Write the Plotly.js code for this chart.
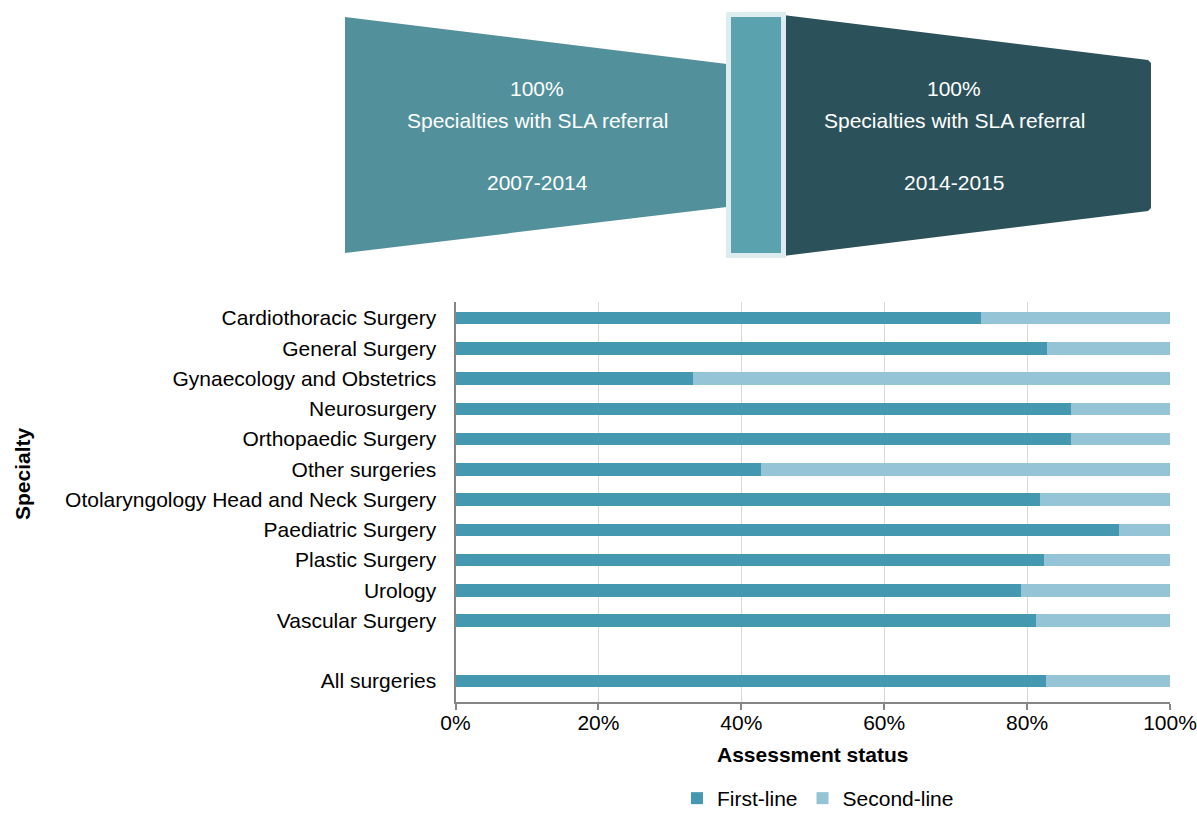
<!DOCTYPE html>
<html><head><meta charset="utf-8">
<script src="https://cdn.plot.ly/plotly-3.0.1.min.js"></script>
<style>html,body{margin:0;padding:0;background:#fff;overflow:hidden}#wrap{width:1197px;height:813px;overflow:hidden;position:relative}#chart{width:1197px;height:819px}</style>
</head><body><div id="wrap"><div id="chart"></div></div>
<script>
const categories = ["Cardiothoracic Surgery","General Surgery","Gynaecology and Obstetrics","Neurosurgery","Orthopaedic Surgery","Other surgeries","Otolaryngology Head and Neck Surgery","Paediatric Surgery","Plastic Surgery","Urology","Vascular Surgery"," ","All surgeries"];
const firstLine = [73.5, 82.8, 33.3, 86.2, 86.1, 42.8, 81.8, 92.8, 82.4, 79.1, 81.3, null, 82.7];
const secondLine = [26.5, 17.2, 66.7, 13.8, 13.9, 57.2, 18.2, 7.2, 17.6, 20.9, 18.7, null, 17.3];
const xTickVals = [0, 20, 40, 60, 80, 100];
const xTickText = ["0%","20%","40%","60%","80%","100%"];
const panelLeft = ["100%","Specialties with SLA referral","","2007-2014"];
const panelRight = ["100%","Specialties with SLA referral","","2014-2015"];

const W = 1197, H = 819;
const px = x => x / W, py = y => 1 - y / H;
const FONT = "Liberation Sans, Arial, sans-serif";
const FS = 21;

function poly(pts, color) {
  return {type:'path', xref:'paper', yref:'paper', layer:'above',
    path: 'M ' + pts.map(p => px(p[0]) + ',' + py(p[1])).join(' L ') + ' Z',
    fillcolor: color, line:{width:0}};
}
function rect(x0,y0,x1,y1,color){
  return {type:'rect', xref:'paper', yref:'paper', layer:'above',
    x0:px(x0), x1:px(x1), y0:py(y1), y1:py(y0), fillcolor:color, line:{width:0}};
}

const shapes = [
  poly([[345,17],[727,64],[727,207],[345,253]], '#52919B'),
  poly([[783,15],[1148,60],[1151,63],[1151,208],[1148,211],[783,256]], '#2B525A'),
  rect(726,12,786,258,'#DCECEF'),
  rect(731,17,781,253,'#5AA3AE')
];

const annotations = [];
const lineY = [88, 120, 151, 182];
panelLeft.forEach((t,i)=>{ if(t) annotations.push({xref:'paper',yref:'paper',x:px(537),y:py(lineY[i]),text:t,showarrow:false,xanchor:'center',yanchor:'middle',font:{family:FONT,size:FS,color:'#ffffff'}}); });
panelRight.forEach((t,i)=>{ if(t) annotations.push({xref:'paper',yref:'paper',x:px(954),y:py(lineY[i]),text:t,showarrow:false,xanchor:'center',yanchor:'middle',font:{family:FONT,size:FS,color:'#ffffff'}}); });
annotations.push({xref:'paper',yref:'paper',x:px(22),y:py(474),text:'<b>Specialty</b>',textangle:-90,showarrow:false,xanchor:'center',yanchor:'middle',font:{family:FONT,size:FS,color:'#000'}});
annotations.push({xref:'paper',yref:'paper',x:px(812),y:py(754),text:'<b>Assessment status</b>',showarrow:false,xanchor:'center',yanchor:'middle',font:{family:FONT,size:FS,color:'#000'}});

const data = [
  {type:'bar', orientation:'h', name:'First-line', y:categories, x:firstLine, marker:{color:'#4499B0'}, hoverinfo:'x+y'},
  {type:'bar', orientation:'h', name:'Second-line', y:categories, x:secondLine, marker:{color:'#94C4D5'}, hoverinfo:'x+y'}
];

const layout = {
  width: W, height: H,
  margin:{l:0,r:0,t:0,b:0},
  paper_bgcolor:'#fff', plot_bgcolor:'#fff',
  barmode:'stack', bargap:0.59,
  font:{family:FONT, size:FS, color:'#000'},
  xaxis:{domain:[px(455.5), px(1170)], range:[0,100], tickvals:xTickVals, ticktext:xTickText,
    showgrid:true, gridcolor:'#D9D9D9', gridwidth:1, zeroline:false,
    showline:true, linecolor:'#868686', linewidth:2, ticks:'outside', ticklen:6, tickcolor:'#868686', tickwidth:2,
    ticklabelstandoff:-5,
    tickfont:{family:FONT,size:FS,color:'#000'}, anchor:'y', fixedrange:true, automargin:false},
  yaxis:{domain:[py(702), py(302)], type:'category', categoryarray:categories, categoryorder:'array',
    range:[12.69, -0.53], showgrid:false, zeroline:false,
    showline:true, linecolor:'#868686', linewidth:2, ticks:'', ticklabelstandoff:13,
    tickfont:{family:FONT,size:FS,color:'#000'}, anchor:'x', fixedrange:true, automargin:false},
  showlegend:true,
  legend:{orientation:'h', x:px(818), xanchor:'center', y:0, yanchor:'bottom',
    font:{family:FONT,size:FS,color:'#000'}, traceorder:'normal', itemwidth:30, borderwidth:0},
  shapes: shapes,
  annotations: annotations
};

Plotly.newPlot('chart', data, layout, {displayModeBar:false, staticPlot:true});
</script>
</body></html>
